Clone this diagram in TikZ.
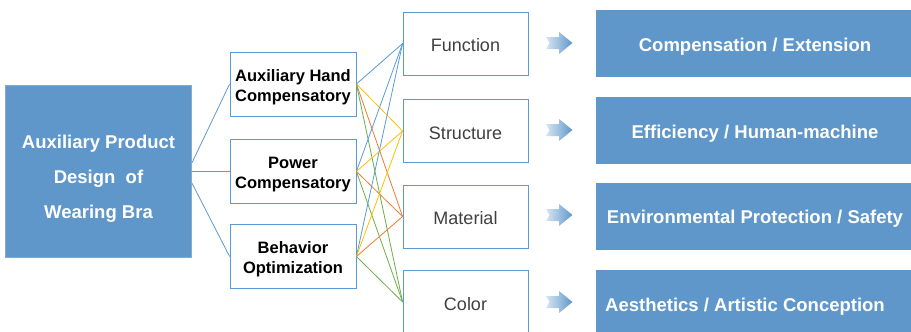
\documentclass[tikz,border=0pt]{standalone}
\usepackage{fontspec}
\setmainfont{Liberation Sans}
\definecolor{boxblue}{HTML}{5F97CA}
\definecolor{lineblue}{HTML}{5B9BD5}
\definecolor{lnyellow}{HTML}{FFC000}
\definecolor{lnorange}{HTML}{ED7D31}
\definecolor{lngreen}{HTML}{70AD47}
\definecolor{txtgrey}{HTML}{404040}
\newcommand\mainstrut{\rule{0pt}{29.5pt}}
\newcommand\midstrut{\rule{0pt}{18pt}}
\tikzset{
  mainbox/.style={draw=boxblue!80!white, fill=boxblue, text=white, line width=0.8pt,
    font=\bfseries\fontsize{18.5}{35}\selectfont, align=center,
    minimum width=186pt, minimum height=172pt, inner sep=0pt},
  midbox/.style={draw=lineblue, fill=white, line width=0.8pt,
    font=\bfseries\fontsize{16.5}{20}\selectfont, align=center,
    minimum width=126pt, minimum height=64pt, inner sep=0pt},
  attrbox/.style={draw=lineblue, fill=white, line width=0.8pt, text=txtgrey,
    font=\fontsize{18}{22}\selectfont, text height=16pt, text depth=0pt,
    minimum width=125pt, minimum height=63pt, inner sep=0pt},
  resbox/.style={fill=boxblue, text=white,
    font=\bfseries\fontsize{18.5}{22}\selectfont, text height=19pt, text depth=4pt,
    minimum width=318pt, minimum height=67pt, inner sep=0pt},
  conn/.style={line width=0.8pt},
  fatarrow/.style={left color=boxblue!25, middle color=boxblue!95, right color=boxblue, draw=none}
}
\newcommand\myblockarrow[2]{%
  \shade[fatarrow] (546,#2-6) -- (559,#2-6) -- (559,#2-11) -- (572.5,#2)
    -- (559,#2+11) -- (559,#2+6) -- (546,#2+6) -- (549.5,#2) -- cycle;
  \coordinate (#1) at (559,#2);}
\begin{document}
\begin{tikzpicture}[x=1pt,y=-1pt]
\useasboundingbox (0,0) rectangle (911,332);
\fill[white] (0,0) rectangle (911,332);

% left main box
\node[mainbox] (L) at (98.5,171) {\mainstrut Auxiliary Product\\Design\ \ of\\Wearing Bra};

% middle boxes
\node[midbox] (aux) at (293,84) {\midstrut Auxiliary Hand\\Compensatory};
\node[midbox] (pow) at (293,171.5) {\midstrut Power\\Compensatory};
\node[midbox] (beh) at (293,256.5) {\midstrut Behavior\\Optimization};

% attribute boxes
\node[attrbox] (fun) at (465.5,43.5) {Function};
\node[attrbox] (str) at (465.5,131) {Structure};
\node[attrbox] (mat) at (465.5,216.5) {Material};
\node[attrbox] (col) at (465.5,302) {Color};

% result boxes
\node[resbox] (r1) at (755,43.5) {Compensation / Extension};
\node[resbox] (r2) at (755,130.5) {Efficiency / Human-machine};
\node[resbox] (r3) at (755,216) {Environmental Protection / Safety};
\node[resbox] (r4) at (755,303.5) {Aesthetics / Artistic Conception\hspace*{20pt}};

% left connectors
\draw[conn, lineblue] ([yshift=8pt]L.east) -- (aux.west);
\draw[conn, lineblue] (L.east |- pow.west) -- (pow.west);
\draw[conn, lineblue] ([yshift=-12pt]L.east) -- (beh.west);

% middle connectors
\foreach \m in {aux,pow,beh}{
  \draw[conn, lineblue] (\m.east) -- (fun.west);
  \draw[conn, lnyellow] (\m.east) -- (str.west);
  \draw[conn, lnorange] (\m.east) -- (mat.west);
  \draw[conn, lngreen]  (\m.east) -- (col.west);
}

% block arrows
\myblockarrow{a1}{43}
\myblockarrow{a2}{130}
\myblockarrow{a3}{215}
\myblockarrow{a4}{302}
\end{tikzpicture}
\end{document}
